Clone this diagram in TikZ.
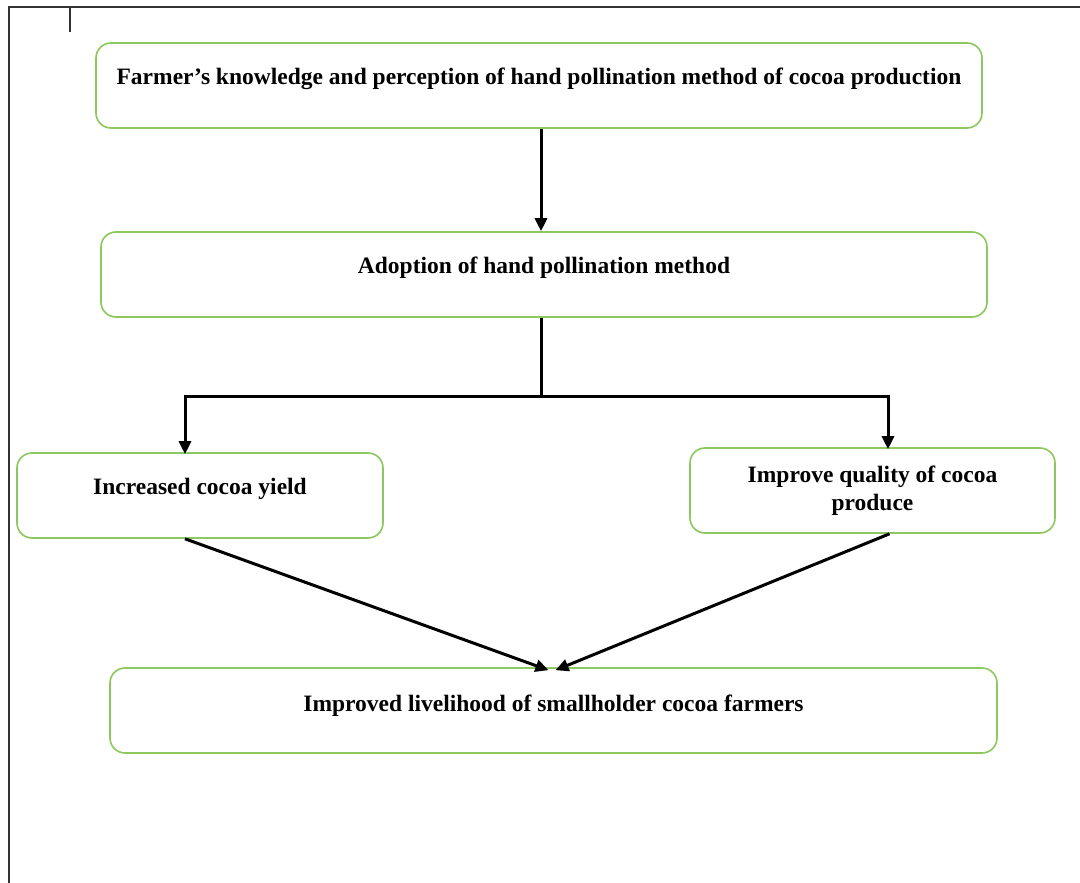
\documentclass[tikz,border=0pt]{standalone}
\usepackage{fontspec}
\setmainfont{Liberation Serif}
\usetikzlibrary{arrows.meta}
\definecolor{boxgreen}{RGB}{140,200,95}
\definecolor{framegray}{RGB}{50,50,50}
\tikzset{
  box/.style={draw=boxgreen, line width=1.6pt, rounded corners=15pt, minimum height=85pt, inner sep=0pt,
    font=\fontsize{23.5}{27.5}\selectfont\bfseries, align=center},
  up/.style={text depth=18pt},
  conn/.style={line width=3pt, -{Triangle[width=12pt,length=13pt]}},
  plain/.style={line width=3pt}
}
\begin{document}
\begin{tikzpicture}[x=1pt,y=-1pt]
\useasboundingbox (0,0) rectangle (1080,883);
\fill[white] (0,0) rectangle (1080,883);
\coordinate (fb) at (9,883);
\coordinate (fc) at (9,7);
\coordinate (fr) at (1080,7);
\draw[framegray, line width=1.8pt] (fb) -- (fc) -- (fr);
\coordinate (ta) at (70,7);
\coordinate (tb) at (70,32);
\draw[framegray, line width=1.4pt] (ta) -- (tb);

\node[box, up, minimum width=886pt] (b1) at (539,85.5) {Farmer’s knowledge and perception of hand pollination method of cocoa production};
\node[box, up, minimum width=886pt] (b2) at (544,274.5) {Adoption of hand pollination method};
\node[box, up, minimum width=366pt] (b3) at (200,495.5) {Increased cocoa yield};
\node[box, minimum width=365pt] (b4) at (872.5,490.5) {Improve quality of cocoa\\produce};
\node[box, up, minimum width=887pt, text depth=15pt] (b5) at (553.5,710.5) {Improved livelihood of smallholder cocoa farmers};

\draw[conn] ([xshift=2pt]b1.south) -- ([xshift=2pt]b1.south |- b2.north);
\coordinate (j) at (541,396);
\coordinate (jl) at (185,396);
\coordinate (jr) at (888,396);
\draw[plain] (j |- b2.south) -- (j);
\draw[conn] (j) -- (jl) -- ([yshift=-2pt]jl |- b3.north);
\draw[conn] (j) -- (jr) -- ([yshift=-2pt]jr |- b4.north);
\draw[conn] ([xshift=-15pt]b3.south) -- ([xshift=-5pt,yshift=-3pt]b5.north);
\draw[conn] ([xshift=17pt]b4.south) -- ([xshift=2pt,yshift=-3pt]b5.north);
\end{tikzpicture}
\end{document}
